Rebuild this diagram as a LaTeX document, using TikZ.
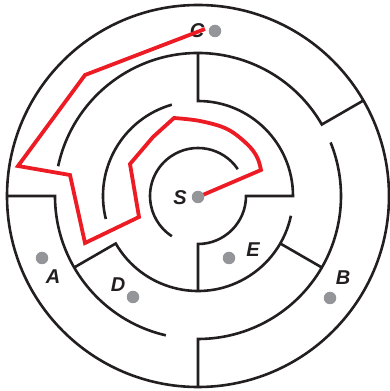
\documentclass[tikz,border=0pt]{standalone}
\usepackage{fontspec}
\setmainfont{Liberation Sans}
\usetikzlibrary{calc}
\definecolor{mazeblack}{RGB}{35,31,32}
\definecolor{pathred}{RGB}{237,28,36}
\definecolor{dotgray}{RGB}{147,149,153}
\begin{document}
\begin{tikzpicture}[x=1pt,y=1pt,
  wall/.style={draw=mazeblack, line width=2.6pt},
  route/.style={draw=pathred, line width=3.8pt, line join=miter},
  spot/.style={circle, fill=dotgray, minimum size=12.5pt, inner sep=0pt},
  lbl/.style={font=\fontsize{20}{20}\selectfont\bfseries\itshape, text=mazeblack, inner sep=0pt}]
\useasboundingbox (0,0) rectangle (389,391);
\coordinate (O) at (198,195);
% outer circle
\draw[wall] (O) circle[radius=191];
% inner ring r=48
\draw[wall] ($(O)+(34:48)$) arc[start angle=34, end angle=237, radius=48];
\draw[wall] ($(O)+(270:95)$) -- ($(O)+(270:48)$) arc[start angle=270, end angle=360, radius=48]
  -- ($(O)+(0:95)$) arc[start angle=0, end angle=90, radius=95] -- ($(O)+(90:143)$);
% ring r=95
\draw[wall] ($(O)+(106:95)$) arc[start angle=106, end angle=194, radius=95];
\draw[wall] ($(O)+(210:143)$) -- ($(O)+(210:95)$) arc[start angle=210, end angle=348, radius=95];
\draw[wall] ($(O)+(330:95)$) -- ($(O)+(330:143)$);
% ring r=143
\draw[wall] ($(O)+(30:191)$) -- ($(O)+(30:143)$) arc[start angle=30, end angle=168, radius=143];
\draw[wall] ($(O)+(180:191)$) -- ($(O)+(180:143)$) arc[start angle=180, end angle=257, radius=143];
\draw[wall] ($(O)+(270:191)$) -- ($(O)+(270:143)$) arc[start angle=270, end angle=382, radius=143];
% labels
\node[lbl] (lC) at (197,360) {C};
\node[lbl] (lS) at (180,193) {S};
\node[lbl] (lE) at (253,141) {E};
\node[lbl] (lB) at (343,113) {B};
\node[lbl] (lA) at (53,114) {A};
\node[lbl] (lD) at (118,106) {D};
% route
\coordinate (rStart) at (198,194);
\coordinate (rEnd) at (205,362);
\draw[route] (rStart) -- (261,221)
  -- plot[smooth, tension=0.6] coordinates {(261,221) (257,234) (247,247) (227,262) (200,270) (174,273)}
  -- (153,254) -- (130,227) -- (139,174) -- (85,148)
  -- (70,216) -- (18,225) -- (85,316) -- (rEnd);
% dots
\node[spot] (dC) at (215,360) {};
\node[spot] (dS) at (198,194) {};
\node[spot] (dE) at (229,133) {};
\node[spot] (dB) at (330,93) {};
\node[spot] (dA) at (42,133) {};
\node[spot] (dD) at (133,94) {};
\end{tikzpicture}
\end{document}
